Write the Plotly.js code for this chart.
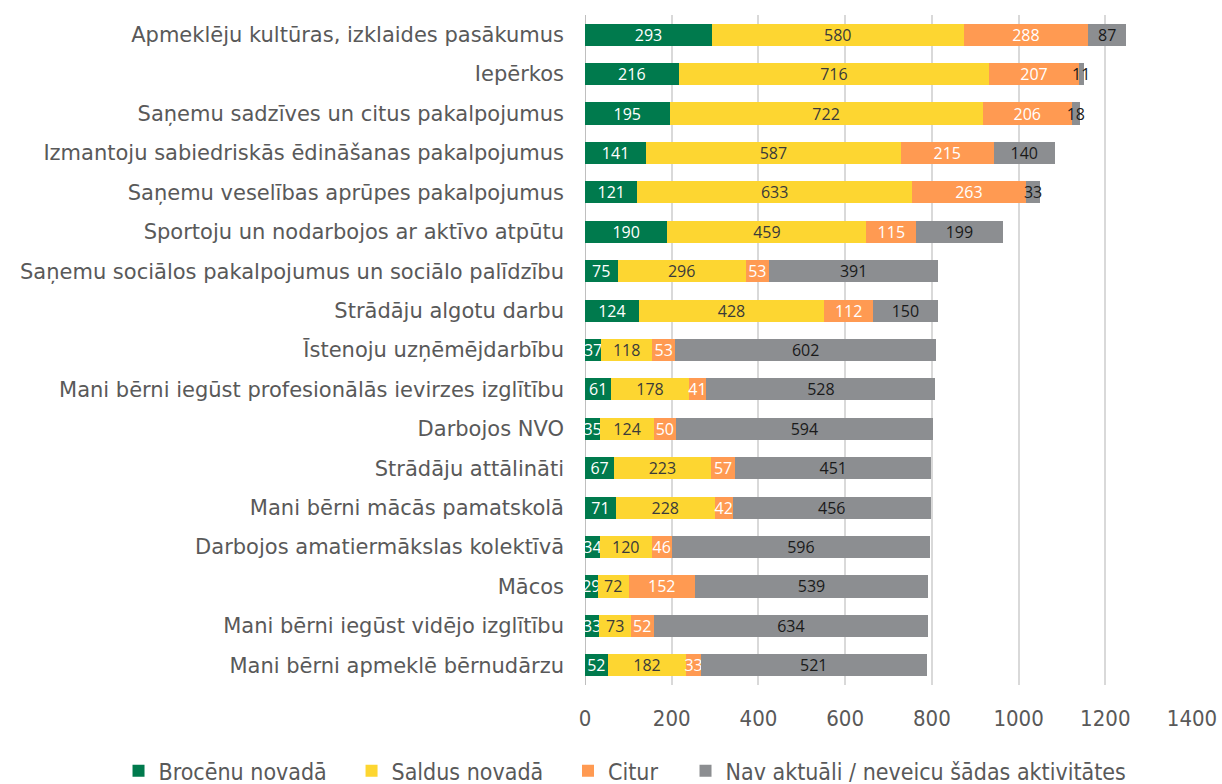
<!DOCTYPE html>
<html>
<head>
<meta charset="utf-8">
<script src="https://cdn.plot.ly/plotly-3.0.1.min.js"></script>
<style>html,body{margin:0;padding:0;background:#fff;}#chart{width:1222px;height:784px;}</style>
</head>
<body>
<div id="chart"></div>
<script>
const categories = [
  "Apmeklēju kultūras, izklaides pasākumus",
  "Iepērkos",
  "Saņemu sadzīves un citus pakalpojumus",
  "Izmantoju sabiedriskās ēdināšanas pakalpojumus",
  "Saņemu veselības aprūpes pakalpojumus",
  "Sportoju un nodarbojos ar aktīvo atpūtu",
  "Saņemu sociālos pakalpojumus un sociālo palīdzību",
  "Strādāju algotu darbu",
  "Īstenoju uzņēmējdarbību",
  "Mani bērni iegūst profesionālās ievirzes izglītību",
  "Darbojos NVO",
  "Strādāju attālināti",
  "Mani bērni mācās pamatskolā",
  "Darbojos amatiermākslas kolektīvā",
  "Mācos",
  "Mani bērni iegūst vidējo izglītību",
  "Mani bērni apmeklē bērnudārzu"
];
const seriesNames = ["Brocēnu novadā", "Saldus novadā", "Citur", "Nav aktuāli / neveicu šādas aktivitātes"];
const brocenu = [293, 216, 195, 141, 121, 190, 75, 124, 37, 61, 35, 67, 71, 34, 29, 33, 52];
const saldus  = [580, 716, 722, 587, 633, 459, 296, 428, 118, 178, 124, 223, 228, 120, 72, 73, 182];
const citur   = [288, 207, 206, 215, 263, 115, 53, 112, 53, 41, 50, 57, 42, 46, 152, 52, 33];
const nav     = [87, 11, 18, 140, 33, 199, 391, 150, 602, 528, 594, 451, 456, 596, 539, 634, 521];
const xTicks = [0, 200, 400, 600, 800, 1000, 1200, 1400];

const colors = ["#007a4d", "#fdd631", "#ff9a52", "#8c8e91"];
const textColors = ["#ffffff", "#3a3a3a", "#ffffff", "#1a1a1a"];
const allSeries = [brocenu, saldus, citur, nav];
const legendIds = ["legend", "legend2", "legend3", "legend4"];
const legendX = [-0.7685, -0.3846, -0.0280, 0.1656];

const traces = allSeries.map((vals, i) => ({
  type: "bar",
  orientation: "h",
  name: seriesNames[i],
  legend: legendIds[i],
  y: categories,
  x: vals,
  text: vals.map(String),
  textposition: "inside",
  insidetextanchor: "middle",
  textangle: 0,
  constraintext: "none",
  textfont: {family: "Open Sans, sans-serif", size: 16, color: textColors[i]},
  marker: {color: colors[i], line: {width: 0}},
  hoverinfo: "x+name"
}));

const layout = {
  width: 1222, height: 784,
  margin: {l: 585, r: 30, t: 15, b: 99, autoexpand: false},
  barmode: "stack",
  bargap: 0.44,
  paper_bgcolor: "#ffffff",
  plot_bgcolor: "#ffffff",
  uniformtext: {mode: "show", minsize: 16},
  xaxis: {
    range: [0, 1400],
    tickvals: xTicks,
    ticktext: xTicks.map(String),
    showgrid: true,
    gridcolor: "#d9d9d9",
    gridwidth: 2,
    zeroline: true,
    zerolinecolor: "#bfbfbf",
    zerolinewidth: 1,
    ticks: "",
    ticklen: 0,
    ticklabelstandoff: 18,
    tickfont: {family: "DejaVu Sans Condensed, sans-serif", size: 22, color: "#595959"},
    fixedrange: true
  },
  yaxis: {
    autorange: "reversed",
    ticks: "",
    ticklabelstandoff: 20,
    tickfont: {family: "DejaVu Sans", size: 21, color: "#595959"},
    showgrid: false,
    zeroline: false
  },
  showlegend: true
};

legendIds.forEach((id, i) => {
  layout[id] = {
    orientation: "h",
    x: legendX[i], xref: "paper", xanchor: "left",
    y: -0.128, yref: "paper", yanchor: "middle",
    font: {family: "DejaVu Sans Condensed, sans-serif", size: 23, color: "#595959"},
    itemwidth: 30,
    bgcolor: "rgba(0,0,0,0)"
  };
});

Plotly.newPlot("chart", traces, layout, {displayModeBar: false, staticPlot: true});
</script>
</body>
</html>
